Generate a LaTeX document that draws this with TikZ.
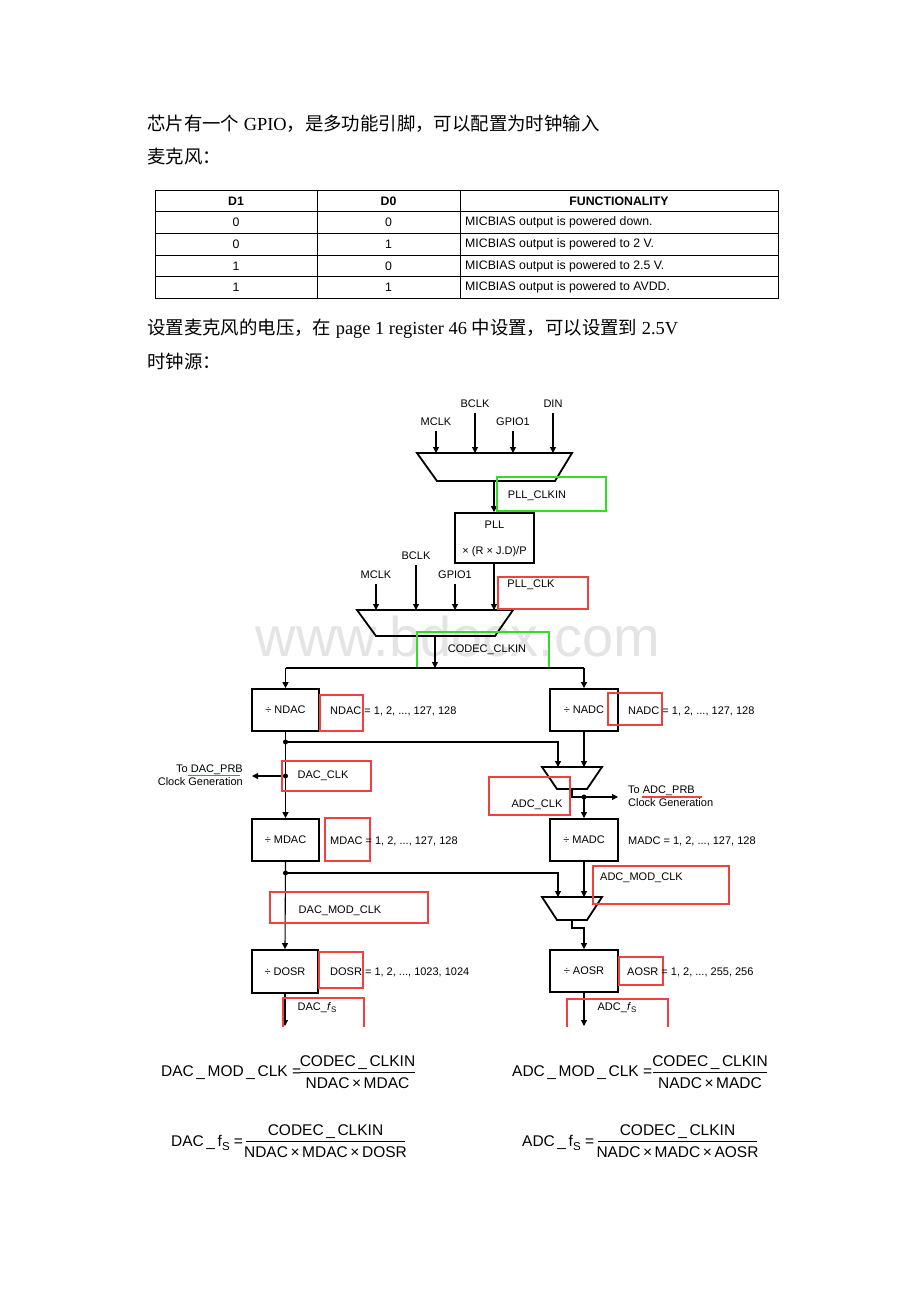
\documentclass[tikz,border=0pt]{standalone}
\usepackage{fontspec}
\setmainfont{Liberation Serif}
\newfontfamily\cjk{Noto Sans CJK SC}
\newfontfamily\arial{Liberation Sans}
\usetikzlibrary{arrows.meta}
\definecolor{rbox}{HTML}{F04040}
\definecolor{gbox}{HTML}{30E020}
\definecolor{wmark}{HTML}{E4E4E4}
\tikzset{
  conn/.style={line width=1.1pt},
  arr/.style={line width=1.1pt,-{Triangle[length=6pt,width=6pt]}},
  blk/.style={draw,line width=1.8pt,inner sep=0pt,font=\arial\fontsize{11}{13}\selectfont},
  muxshape/.style={draw,line width=1.8pt,line join=miter},
  redbox/.style={draw=rbox,line width=1.6pt},
  greenbox/.style={draw=gbox,line width=2.6pt},
  lbl/.style={inner sep=0pt,font=\arial\fontsize{11}{13}\selectfont},
  tbl/.style={inner sep=0pt,font=\arial\fontsize{12.3}{14}\selectfont},
  frm/.style={inner sep=0pt,font=\arial\fontsize{15.5}{17}\selectfont},
  body/.style={inner sep=0pt,anchor=base west,font=\fontsize{18.4}{22}\selectfont},
  dot/.style={circle,fill,inner sep=0pt,minimum size=5pt}
}
\begin{document}
\begin{tikzpicture}[x=1pt,y=-1pt]
\useasboundingbox[fill=white] (0,0) rectangle (920,1302);

% ---------- body text ----------
\node[body] (t1) at (147,130) {{\cjk 芯片有一个} GPIO{\cjk ，是多功能引脚，可以配置为时钟输入}};
\node[body] (t2) at (147,163) {{\cjk 麦克风：}};
\node[body] (t3) at (147,334) {{\cjk 设置麦克风的电压，在} page 1 register 46 {\cjk 中设置，可以设置到} 2.5V};
\node[body] (t4) at (147,368) {{\cjk 时钟源：}};

% ---------- table ----------
\draw[line width=0.9pt] (155,190) rectangle (778,298);
\foreach \yy in {211.5,233,255,276.5} \draw[line width=0.9pt] (155,\yy) -- (778,\yy);
\foreach \xx in {317,460} \draw[line width=0.9pt] (\xx,190) -- (\xx,298);
\node[tbl,font=\arial\bfseries\fontsize{12.3}{14}\selectfont] (h1) at (236,201) {D1};
\node[tbl,font=\arial\bfseries\fontsize{12.3}{14}\selectfont] (h2) at (388.5,201) {D0};
\node[tbl,font=\arial\bfseries\fontsize{12.3}{14}\selectfont] (h3) at (619,201) {FUNCTIONALITY};
\node[tbl] (r1a) at (236,222.5) {0};
\node[tbl] (r1b) at (388.5,222.5) {0};
\node[tbl,anchor=west] (r1c) at (465,222.5) {MICBIAS output is powered down.};
\node[tbl] (r2a) at (236,244) {0};
\node[tbl] (r2b) at (388.5,244) {1};
\node[tbl,anchor=west] (r2c) at (465,244) {MICBIAS output is powered to 2 V.};
\node[tbl] (r3a) at (236,266) {1};
\node[tbl] (r3b) at (388.5,266) {0};
\node[tbl,anchor=west] (r3c) at (465,266) {MICBIAS output is powered to 2.5 V.};
\node[tbl] (r4a) at (236,287.5) {1};
\node[tbl] (r4b) at (388.5,287.5) {1};
\node[tbl,anchor=west] (r4c) at (465,287.5) {MICBIAS output is powered to AVDD.};

% ---------- watermark ----------
\node[inner sep=0pt,text=wmark,font=\arial\fontsize{56}{60}\selectfont] (wm) at (458,636) {www.bdocx.com};

% ---------- first mux ----------
\coordinate (m1tl) at (417,453); \coordinate (m1tr) at (572,453);
\coordinate (m1br) at (555,481); \coordinate (m1bl) at (437,481);
\draw[muxshape] (m1tl) -- (m1tr) -- (m1br) -- (m1bl) -- cycle;
\node[lbl] (imclk1) at (436,422) {MCLK};
\node[lbl] (ibclk1) at (475,404) {BCLK};
\node[lbl] (igpio1) at (513,422) {GPIO1};
\node[lbl] (idin) at (553,404) {DIN};
\draw[arr] ([yshift=-5pt]imclk1.south) -- (imclk1.south |- m1tl);
\draw[arr] ([yshift=-5pt]ibclk1.south) -- (ibclk1.south |- m1tl);
\draw[arr] ([yshift=-5pt]igpio1.south) -- (igpio1.south |- m1tl);
\draw[arr] ([yshift=-5pt]idin.south) -- (idin.south |- m1tl);
\coordinate (m1out) at (494,481);

% PLL
\node[blk,minimum width=79pt,minimum height=50pt] (pll) at (494.5,538) {};
\node[lbl] (pllt) at (494.5,525) {PLL};
\node[lbl] (pllf) at (494.5,552) {× (R × J.D)/P};
\draw[arr] (m1out) -- (m1out |- pll.north);
\draw[greenbox] (497,477) rectangle (606,511);
\node[lbl] (pllclkin) at (537,496) {PLL\_CLKIN};

% ---------- second mux ----------
\coordinate (m2tl) at (357,610); \coordinate (m2tr) at (513,610);
\coordinate (m2br) at (495,636); \coordinate (m2bl) at (376,636);
\draw[muxshape] (m2tl) -- (m2tr) -- (m2br) -- (m2bl) -- cycle;
\node[lbl] (imclk2) at (376,575) {MCLK};
\node[lbl] (ibclk2) at (416,556) {BCLK};
\node[lbl] (igpio2) at (455,575) {GPIO1};
\draw[arr] ([yshift=-5pt]imclk2.south) -- (imclk2.south |- m2tl);
\draw[arr] ([yshift=-5pt]ibclk2.south) -- (ibclk2.south |- m2tl);
\draw[arr] ([yshift=-5pt]igpio2.south) -- (igpio2.south |- m2tl);
\coordinate (pllout) at (494,563);
\draw[arr] (pllout) -- (pllout |- m2tl);
\draw[redbox] (498,577) rectangle (588,609);
\node[lbl] (pllclk) at (531,585) {PLL\_CLK};
\coordinate (m2out) at (435,636);
\coordinate (bus) at (435,668);
\draw[arr] (m2out) -- (bus);
\draw[greenbox] (417,632) rectangle (549,668);
\node[lbl] (codecclkin) at (487,650) {CODEC\_CLKIN};

% ---------- DAC chain ----------
\node[blk,minimum width=67pt,minimum height=42pt] (ndac) at (285.5,710) {÷ NDAC};
\node[blk,minimum width=67pt,minimum height=42pt] (mdac) at (285.5,840) {÷ MDAC};
\node[blk,minimum width=66pt,minimum height=43pt] (dosr) at (285,971.5) {÷ DOSR};
\node[blk,minimum width=68pt,minimum height=42pt] (nadc) at (584,710) {÷ NADC};
\node[blk,minimum width=68pt,minimum height=42pt] (madc) at (584,840) {÷ MADC};
\node[blk,minimum width=68pt,minimum height=42pt] (aosr) at (584,971) {÷ AOSR};

\draw[conn] (ndac.north |- bus) -- (nadc.north |- bus);
\draw[arr] (ndac.north |- bus) -- (ndac.north);
\draw[arr] (nadc.north |- bus) -- (nadc.north);

\draw[redbox] (320,695) rectangle (363,731);
\node[lbl,anchor=west] (ndacr) at (330,711) {NDAC = 1, 2, ..., 127, 128};
\draw[redbox] (608,693) rectangle (662,725);
\node[lbl,anchor=west] (nadcr) at (628,711) {NADC = 1, 2, ..., 127, 128};

% ADC clock mux
\coordinate (a1tl) at (542,767); \coordinate (a1tr) at (602,767);
\coordinate (a1br) at (587,789); \coordinate (a1bl) at (557,789);
\draw[muxshape] (a1tl) -- (a1tr) -- (a1br) -- (a1bl) -- cycle;
\coordinate (j1) at (285.5,742);
\coordinate (j2) at (285.5,776);
\coordinate (a1inl) at (558,767);
\coordinate (a1out) at (572,789);
\coordinate (a1dot) at (584,797);
\coordinate (adcprb) at (618,797);
\draw[arr] (ndac.south) -- (mdac.north);
\draw[arr] (j1) -- (j1 -| a1inl) -- (a1inl);
\draw[arr] (nadc.south) -- (nadc.south |- a1tl);
\node[dot] (d1) at (j1) {};
\node[dot] (d2) at (j2) {};
\coordinate (dacprb) at (252,776);
\draw[arr] (j2) -- (dacprb);
\node[lbl,anchor=east,align=right] (dacprbt) at (243,775) {To DAC\_PRB\\Clock Generation};
\draw[rbox,line width=1.2pt] (188,775.5) -- (240,775.5);
\draw[redbox] (282,761) rectangle (371,791);
\node[lbl] (dacclk) at (323,776) {DAC\_CLK};

\draw[conn] (a1out) -- (a1out |- a1dot) -- (a1dot);
\draw[arr] (a1dot) -- (adcprb);
\draw[arr] (a1dot) -- (madc.north);
\node[dot] (d3) at (a1dot) {};
\node[lbl,anchor=west,align=left] (adcprbt) at (628,796) {To ADC\_PRB\\Clock Generation};
\draw[rbox,line width=1.2pt] (642,797) -- (702,797);
\draw[redbox] (489,777) rectangle (570,815);
\node[lbl] (adcclk) at (537,805) {ADC\_CLK};

\draw[redbox] (325,818) rectangle (370,861);
\node[lbl,anchor=west] (mdacr) at (330,841) {MDAC = 1, 2, ..., 127, 128};
\node[lbl,anchor=west] (madcr) at (628,841) {MADC = 1, 2, ..., 127, 128};

% ADC modulator mux
\coordinate (a2tl) at (542,897); \coordinate (a2tr) at (602,897);
\coordinate (a2br) at (587,920); \coordinate (a2bl) at (557,920);
\draw[muxshape] (a2tl) -- (a2tr) -- (a2br) -- (a2bl) -- cycle;
\coordinate (j3) at (285.5,873);
\coordinate (a2inl) at (558,897);
\coordinate (a2out) at (572,920);
\coordinate (a2k) at (584,928);
\draw[arr] (mdac.south) -- (dosr.north);
\draw[arr] (j3) -- (j3 -| a2inl) -- (a2inl);
\node[dot] (d4) at (j3) {};
\draw[arr] (madc.south) -- (madc.south |- a2tl);
\draw[arr] (a2out) -- (a2out |- a2k) -- (a2k) -- (aosr.north);
\draw[redbox] (270,892) rectangle (428,923);
\node[lbl] (dacmod) at (340,911) {DAC\_MOD\_CLK};
\draw[redbox] (593,866) rectangle (729,904);
\node[lbl,anchor=west] (adcmod) at (600,878) {ADC\_MOD\_CLK};

\draw[redbox] (319,952) rectangle (363,988);
\node[lbl,anchor=west] (dosrr) at (330,972) {DOSR = 1, 2, ..., 1023, 1024};
\draw[redbox] (619,957) rectangle (663,985);
\node[lbl,anchor=west] (aosrr) at (627,972) {AOSR = 1, 2, ..., 255, 256};

\coordinate (dacfs) at (285,1026);
\coordinate (adcfs) at (584,1026);
\draw[arr] (dosr.south) -- (dacfs);
\draw[arr] (aosr.south) -- (adcfs);
\draw[redbox] (283,1027) -- (283,998) -- (364,998) -- (364,1027);
\draw[redbox] (567,1027) -- (567,999) -- (668,999) -- (668,1027);
\node[lbl] (dacfst) at (317,1008) {DAC\_\textit{f}\raisebox{-0.35ex}{\fontsize{8}{8}\selectfont S}};
\node[lbl] (adcfst) at (617,1008) {ADC\_\textit{f}\raisebox{-0.35ex}{\fontsize{8}{8}\selectfont S}};

% ---------- formulas ----------
\node[frm,anchor=west] (f1l) at (161,1073) {DAC\,\_\,MOD\,\_\,CLK =};
\node[frm] (f1n) at (357.5,1063) {CODEC\,\_\,CLKIN};
\node[frm] (f1d) at (357.5,1083) {NDAC\,×\,MDAC};
\draw[line width=0.8pt] (300,1072) -- (415,1072);

\node[frm,anchor=west] (f2l) at (512,1073) {ADC\,\_\,MOD\,\_\,CLK =};
\node[frm] (f2n) at (710,1063) {CODEC\,\_\,CLKIN};
\node[frm] (f2d) at (710,1083) {NADC\,×\,MADC};
\draw[line width=0.8pt] (653,1072) -- (767,1072);

\node[frm,anchor=west] (f3l) at (171,1143) {DAC\,\_\,f\raisebox{-0.4ex}{\fontsize{11.5}{12}\selectfont S} =};
\node[frm] (f3n) at (325.5,1132) {CODEC\,\_\,CLKIN};
\node[frm] (f3d) at (325.5,1152) {NDAC\,×\,MDAC\,×\,DOSR};
\draw[line width=0.8pt] (246,1141) -- (405,1141);

\node[frm,anchor=west] (f4l) at (522,1143) {ADC\,\_\,f\raisebox{-0.4ex}{\fontsize{11.5}{12}\selectfont S} =};
\node[frm] (f4n) at (677.5,1132) {CODEC\,\_\,CLKIN};
\node[frm] (f4d) at (677.5,1152) {NADC\,×\,MADC\,×\,AOSR};
\draw[line width=0.8pt] (598,1141) -- (757,1141);
\end{tikzpicture}
\end{document}
